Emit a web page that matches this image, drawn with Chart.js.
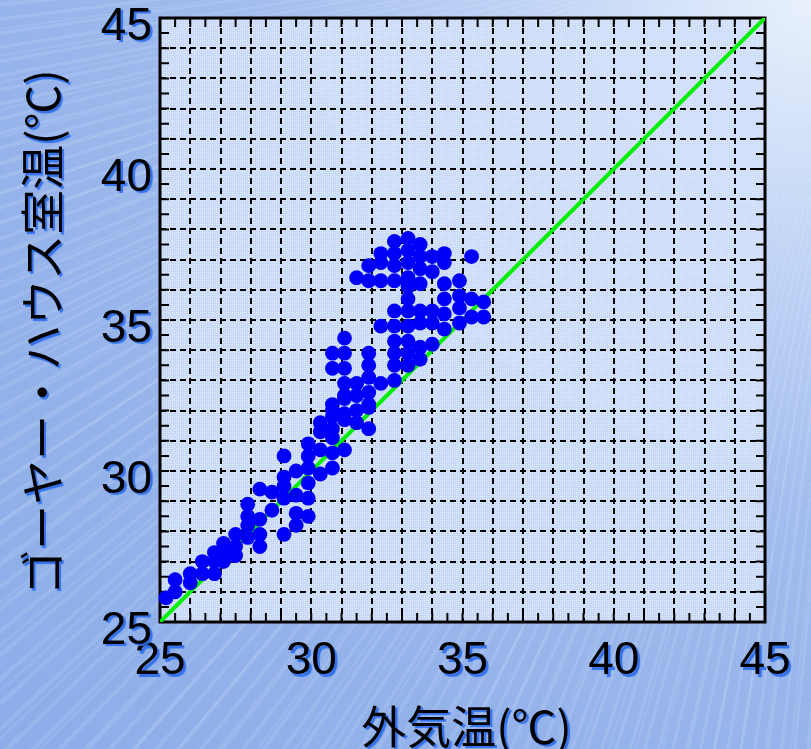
<!DOCTYPE html>
<html lang="ja">
<head>
<meta charset="utf-8">
<title>ゴーヤー・ハウス室温と外気温</title>
<script src="https://cdn.jsdelivr.net/npm/chart.js@4.4.1/dist/chart.umd.min.js"></script>
<style>
  html, body { margin: 0; padding: 0; }
  body {
    width: 811px; height: 749px; overflow: hidden;
    background:
      repeating-conic-gradient(from 0deg at 108% -12%, rgba(255,255,255,0.10) 0deg 0.22deg, rgba(255,255,255,0) 0.22deg 0.9deg),
      repeating-conic-gradient(from 0.4deg at 108% -12%, rgba(255,255,255,0.08) 0deg 0.14deg, rgba(255,255,255,0) 0.14deg 1.7deg),
      radial-gradient(ellipse at 100% 0%, #e8f0fc 0%, #c3d6f6 22%, #a2bdee 48%, #93b2ea 75%, #8cadea 100%);
  }
  canvas { display: block; }
</style>
</head>
<body>
<canvas id="chart" width="811" height="749"></canvas>
<script>
// 外気温 (x) と ゴーヤー・ハウス室温 (y) の観測値（℃）
const outdoorTemp = [
  25.2,
  25.5, 25.5,
  26.0, 26.0,
  26.4, 26.4,
  26.8, 26.8, 26.8,
  27.1, 27.1, 27.1,
  27.5, 27.5, 27.5,
  27.9, 27.9, 27.9, 27.9,
  28.3, 28.3, 28.3, 28.3,
  28.7, 28.7,
  29.1, 29.1, 29.1, 29.1, 29.1,
  29.5, 29.5, 29.5, 29.5,
  29.9, 29.9, 29.9, 29.9, 29.9, 29.9,
  30.3, 30.3, 30.3, 30.3,
  30.7, 30.7, 30.7, 30.7, 30.7, 30.7, 30.7, 30.7, 30.7,
  31.1, 31.1, 31.1, 31.1, 31.1, 31.1, 31.1, 31.1, 31.1,
  31.5, 31.5, 31.5, 31.5, 31.5,
  31.9, 31.9, 31.9, 31.9, 31.9, 31.9, 31.9, 31.9, 31.9,
  32.3, 32.3, 32.3, 32.3, 32.3,
  32.75, 32.75, 32.75, 32.75, 32.75, 32.75, 32.75, 32.75, 32.75, 32.75,
  33.2, 33.2, 33.2, 33.2, 33.2, 33.2, 33.2, 33.2, 33.2, 33.2, 33.2,
  33.6, 33.6, 33.6, 33.6, 33.6, 33.6, 33.6, 33.6,
  34.0, 34.0, 34.0, 34.0, 34.0,
  34.4, 34.4, 34.4, 34.4, 34.4, 34.4,
  34.9, 34.9, 34.9, 34.9,
  35.3, 35.3, 35.3,
  35.7, 35.7
];
const houseTemp = [
  25.8,
  26.4, 26.0,
  26.6, 26.3,
  27.0, 26.6,
  27.3, 27.0, 26.6,
  27.6, 27.3, 27.0,
  27.9, 27.5, 27.2,
  28.9, 28.5, 28.2, 27.8,
  29.4, 28.4, 27.9, 27.5,
  29.3, 28.7,
  30.5, 29.8, 29.5, 29.1, 27.9,
  30.0, 29.2, 28.6, 28.2,
  30.9, 30.5, 30.1, 29.6, 29.1, 28.5,
  31.6, 31.3, 30.7, 29.9,
  33.9, 33.4, 32.2, 31.8, 31.4, 31.1, 30.6, 30.1, 32.0,
  34.4, 33.9, 33.4, 32.9, 32.5, 32.4, 31.9, 31.7, 30.7,
  36.4, 32.9, 32.5, 32.0, 31.6,
  36.8, 36.3, 33.9, 33.5, 33.1, 32.6, 32.2, 32.1, 31.4,
  37.2, 36.9, 36.3, 34.8, 32.9,
  37.6, 37.2, 36.8, 36.3, 35.3, 34.8, 34.3, 33.9, 33.5, 33.0,
  37.7, 37.3, 36.9, 36.4, 36.1, 35.7, 35.3, 34.8, 34.3, 33.9, 33.5,
  37.5, 37.1, 36.7, 36.2, 35.3, 34.9, 34.1, 33.7,
  37.1, 36.6, 35.3, 34.9, 34.2,
  37.2, 36.9, 36.2, 35.7, 35.2, 34.7,
  36.3, 35.8, 35.4, 34.9,
  37.1, 35.7, 35.1,
  35.6, 35.1
];
// 室温 = 外気温 の基準線
const equalLineX = [25, 45];
const equalLineY = [25, 45];
// 軸の目盛りラベル
const xTickLabels = [25, 30, 35, 40, 45];
const yTickLabels = [25, 30, 35, 40, 45];
const axisMin = 25, axisMax = 45;

const scatterPoints = outdoorTemp.map((x, i) => ({ x, y: houseTemp[i] }));
const equalLine = equalLineX.map((x, i) => ({ x, y: equalLineY[i] }));

// plot-area fill: light blue halftone texture
const tile = document.createElement('canvas');
tile.width = 4; tile.height = 4;
const tc = tile.getContext('2d');
tc.fillStyle = 'rgba(204,220,248,0.9)';
tc.fillRect(0, 0, 4, 4);
tc.fillStyle = 'rgba(232,240,253,0.92)';
tc.fillRect(0, 0, 1, 1); tc.fillRect(2, 2, 1, 1);
tc.fillStyle = 'rgba(218,230,251,0.92)';
tc.fillRect(2, 0, 1, 1); tc.fillRect(0, 2, 1, 1);

function setShadow(c) {
  c.shadowColor = 'rgba(45,110,235,0.95)';
  c.shadowOffsetX = 2.5;
  c.shadowOffsetY = 2.5;
  c.shadowBlur = 1;
}

const plotDecor = {
  id: 'plotDecor',
  afterUpdate(chart) {
    Object.values(chart.scales).forEach(s => {
      if (s._decorWrapped) return;
      s._decorWrapped = true;
      const drawLabels = s.drawLabels;
      const drawTitle = s.drawTitle;
      const shift = s.axis === 'x' ? [4, 0] : [0, 12];
      s.drawLabels = function (area) {
        const c = this.ctx;
        c.save(); setShadow(c); drawLabels.call(this, area); c.restore();
      };
      s.drawTitle = function () {
        const c = this.ctx;
        c.save(); setShadow(c); c.translate(shift[0], shift[1]); drawTitle.call(this); c.restore();
      };
    });
  },
  beforeDraw(chart) {
    const { ctx, chartArea: a } = chart;
    ctx.save();
    ctx.fillStyle = ctx.createPattern(tile, 'repeat');
    ctx.fillRect(a.left, a.top, a.right - a.left, a.bottom - a.top);
    ctx.restore();
  },
  beforeDatasetsDraw(chart) {
    const { ctx, chartArea: a, scales: { x, y } } = chart;
    ctx.save();
    ctx.strokeStyle = '#000';
    ctx.lineWidth = 2;
    ctx.beginPath();
    for (let v = axisMin + 0.5; v < axisMax; v += 0.5) {
      const px = x.getPixelForValue(v);
      const py = y.getPixelForValue(v);
      ctx.moveTo(px, a.bottom); ctx.lineTo(px, a.bottom - 9);
      ctx.moveTo(px, a.top); ctx.lineTo(px, a.top + 9);
      ctx.moveTo(a.left, py); ctx.lineTo(a.left + 9, py);
      ctx.moveTo(a.right, py); ctx.lineTo(a.right - 9, py);
    }
    ctx.stroke();
    ctx.lineWidth = 3;
    ctx.strokeRect(a.left, a.top, a.right - a.left, a.bottom - a.top);
    ctx.restore();
  }
};

const tickFont = { family: "'Liberation Sans', Arial, sans-serif", size: 46, lineHeight: 1.2 };
const titleFont = { family: "'Noto Sans CJK JP', sans-serif", size: 45, lineHeight: 1 };

function fixPadding(scale) {
  scale.paddingTop = 0; scale.paddingBottom = 0;
  scale.paddingLeft = 0; scale.paddingRight = 0;
}

new Chart(document.getElementById('chart'), {
  type: 'scatter',
  data: {
    datasets: [
      {
        label: 'ハウス室温',
        data: scatterPoints,
        backgroundColor: '#0000f8',
        borderWidth: 0,
        pointRadius: 7.4,
        pointHoverRadius: 7.4,
        clip: 9,
        order: 1
      },
      {
        type: 'line',
        label: '室温 = 外気温',
        data: equalLine,
        borderColor: '#00f000',
        borderWidth: 4,
        pointRadius: 0,
        fill: false,
        order: 2
      }
    ]
  },
  options: {
    responsive: false,
    animation: false,
    devicePixelRatio: 1,
    events: [],
    layout: { padding: { left: 0, top: 18, right: 46, bottom: 0 } },
    plugins: { legend: { display: false }, tooltip: { enabled: false } },
    scales: {
      x: {
        type: 'linear',
        min: axisMin, max: axisMax,
        afterFit(scale) { scale.height = 127; fixPadding(scale); },
        grid: { color: '#000', lineWidth: 2, drawTicks: false },
        border: { display: false, dash: [6, 4] },
        ticks: {
          stepSize: 1, autoSkip: false, maxRotation: 0, padding: 12,
          color: '#000', font: tickFont,
          callback: v => xTickLabels.includes(v) ? String(v) : ''
        },
        title: {
          display: true, text: '外気温(℃)', color: '#000', font: titleFont,
          padding: { top: 0, bottom: 0 }
        }
      },
      y: {
        type: 'linear',
        min: axisMin, max: axisMax,
        afterFit(scale) { scale.width = 160; fixPadding(scale); },
        grid: { color: '#000', lineWidth: 2, drawTicks: false },
        border: { display: false, dash: [6, 4] },
        ticks: {
          stepSize: 1, autoSkip: false, padding: 8, labelOffset: 9,
          color: '#000', font: tickFont,
          callback: v => yTickLabels.includes(v) ? String(v) : ''
        },
        title: {
          display: true, text: 'ゴーヤー・ハウス室温(℃)', color: '#000', font: titleFont,
          padding: { top: 20, bottom: 0 }
        }
      }
    }
  },
  plugins: [plotDecor]
});
</script>
</body>
</html>
